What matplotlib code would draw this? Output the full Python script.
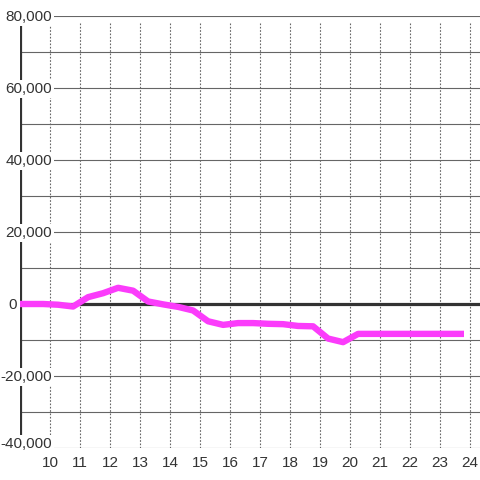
import matplotlib.pyplot as plt

# data
hours = [8.77, 9.27, 9.77, 10.27, 10.77, 11.27, 11.77, 12.27, 12.77, 13.27, 13.77,
         14.27, 14.77, 15.27, 15.77, 16.27, 16.77, 17.27, 17.77, 18.27, 18.77,
         19.27, 19.77, 20.27, 20.77, 21.27, 21.77, 22.27, 22.77, 23.27, 23.8]
values = [0, 0, 0, -200, -700, 1900, 3000, 4500, 3700, 700, -100,
          -800, -1800, -4800, -5800, -5300, -5300, -5500, -5600, -6100, -6200,
          -9600, -10600, -8300, -8300, -8300, -8300, -8300, -8300, -8300, -8300]
y_labels = [80000, 60000, 40000, 20000, -20000, -40000]
x_ticks = list(range(10, 25))

plt.rcParams['font.family'] = ['Liberation Sans', 'DejaVu Sans']
txt_col = '#333333'

fig = plt.figure(figsize=(4.8, 4.8), dpi=100)
ax = fig.add_axes([20 / 480, 32 / 480, 460 / 480, 432 / 480])
ax.set_xlim(9, 9 + 460 / 30)
ax.set_ylim(-40000, 80000)
ax.axis('off')

# grid
for g in range(-40000, 80001, 10000):
    ax.axhline(g, color='#666666', lw=0.8, zorder=1)
ax.vlines(x_ticks, -40000, 78000, color='#666666', lw=0.8,
          linestyles=(0, (1.5, 1.5)), zorder=1)

# zero line and left axis
ax.axhline(0, color='#333333', lw=2.3, zorder=2)
ax.axvline(9, color='#333333', lw=2.3, zorder=2)

ax.plot(hours, values, color='#fb3cfb', lw=4.6, solid_capstyle='butt',
        solid_joinstyle='round', zorder=3)

# y labels (white box hides the lines behind them)
px = 1000 / 3.6
for v in y_labels:
    yb = v - 5.3 * px if v != -40000 else v + 0.5 * px
    ax.text(9 + 32 / 30, yb, f'{v:,}', ha='right', va='baseline', fontsize=11,
            color=txt_col, zorder=5, clip_on=False,
            bbox=dict(boxstyle='square,pad=0.12', fc='white', ec='none'))
ax.text(9 - 3.5 / 30, -5.3 * px, '0', ha='right', va='baseline', fontsize=11,
        color=txt_col, zorder=5, clip_on=False)

# x labels
for t in x_ticks:
    ax.text(t, -19 / 432, str(t), ha='center', va='baseline', fontsize=11,
            color=txt_col, transform=ax.get_xaxis_transform(), clip_on=False)

fig.savefig('out.png', dpi=100, facecolor='white')
